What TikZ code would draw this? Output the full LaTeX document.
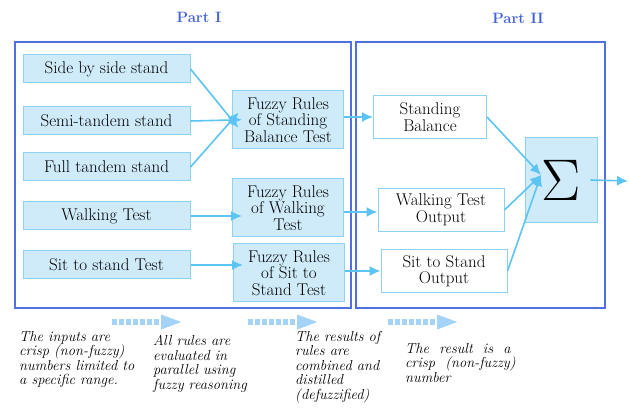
\documentclass[tikz,border=0pt]{standalone}
\usetikzlibrary{positioning,arrows.meta}
\definecolor{frameblue}{HTML}{4F6FE3}
\definecolor{partblue}{HTML}{4262D8}
\definecolor{boxfill}{HTML}{CFEBFA}
\definecolor{boxline}{HTML}{8ED2F2}
\definecolor{flowblue}{HTML}{5CC4F2}
\definecolor{hintblue}{HTML}{A3D3F7}

\begin{document}
\begin{tikzpicture}
      [x=1pt, y=-1pt, font=\fontsize{17}{16.5}\selectfont,
      % STYLES
      % The part style is used for the two big frames
      part/.style={rectangle, draw=frameblue, line width=2pt, minimum height=266pt},
      partLabel/.style={text=partblue, font=\fontsize{15}{15}\selectfont\bfseries},
      % The input style is used for the crisp measurements
      input/.style={rectangle, draw=boxline, fill=boxfill, line width=1pt, minimum width=167pt, minimum height=28pt, inner sep=2pt},
      % The rules style is used for the fuzzy rule blocks
      rules/.style={rectangle, draw=boxline, fill=boxfill, line width=1pt, align=center, minimum width=111pt, minimum height=58pt, inner sep=1pt},
      % The output style is used for the rule outputs
      output/.style={rectangle, draw=boxline, fill=white, line width=1pt, align=center, minimum height=43pt, inner sep=1pt},
      flow/.style={flowblue, line width=1.6pt, -{Latex[length=11pt,width=10pt]}},
      hint/.style={hintblue, line width=6pt, dash pattern=on 5pt off 2pt, -{Triangle[length=22pt,width=13pt]}},
      comment/.style={anchor=north west, inner sep=0pt, align=left, font=\fontsize{14.5}{14.5}\selectfont\itshape}]

      \useasboundingbox (0,0) rectangle (629,419);

      % Draw frames
      \node [part, minimum width=336pt] (partOne) at (183,175) {};
      \node [part, minimum width=249pt] (partTwo) at (480.5,175) {};
      \node [partLabel] (partOneLabel) at (199,17) {Part I};
      \node [partLabel] (partTwoLabel) at (518,18) {Part II};

      % Draw inputs
      \node [input] (sideBySide) at (106.5,69) {Side by side stand};
      \node [input] (semiTandem) at (106.5,121) {Semi-tandem stand};
      \node [input] (fullTandem) at (106.5,167) {Full tandem stand};
      \node [input] (walking) at (106.5,216) {Walking Test};
      \node [input] (sitToStand) at (106.5,265) {Sit to stand Test};

      % Draw rules
      \node [rules] (rulesBalance) at (288,120) {Fuzzy Rules\\of Standing\\Balance Test};
      \node [rules] (rulesWalking) at (288,208) {Fuzzy Rules\\of Walking\\Test};
      \node [rules] (rulesSit) at (289,273) {Fuzzy Rules\\of Sit to\\Stand Test};

      % Draw outputs
      \node [output, minimum width=113pt] (balanceOut) at (430,117) {Standing\\Balance};
      \node [output, minimum width=126pt] (walkingOut) at (441,210) {Walking Test\\Output};
      \node [output, minimum width=126pt] (sitOut) at (444,271) {Sit to Stand\\Output};
      \node [rectangle, draw=boxline, fill=boxfill, line width=1pt, minimum width=72pt, minimum height=85pt] (sigma) at (561,180) {\scalebox{3.4}{$\Sigma$}};
      \coordinate (sigmaIn) at (541,175);
      \coordinate (sumOut) at (628,181);

      %%%%%%%%%%%%%%%
      % Comments
      \node [comment] (comment-inputs) at (19,331) {The inputs are\\crisp (non-fuzzy)\\numbers limited to\\a specific range.};
      \node [comment] (comment-rules) at (153,335) {All rules are\\evaluated in\\parallel using\\fuzzy reasoning};
      \node [comment] (comment-combine) at (295,331) {The results of\\rules are\\combined and\\distilled\\(defuzzified)};
      \node [comment] (comment-result) at (405,343) {The \ result \ is \ a\\crisp \ (non-fuzzy)\\number};

      \coordinate (hintOneA) at (112,322);
      \coordinate (hintOneB) at (183,322);
      \coordinate (hintTwoA) at (248,322);
      \coordinate (hintTwoB) at (319,322);
      \coordinate (hintThreeA) at (388,322);
      \coordinate (hintThreeB) at (459,322);

      %%%%%%%%%%%%%%%%

      % Draw the links between blocks
      \path[flow, shorten >=-10pt]
        (sideBySide.east) edge (rulesBalance.west)
        (semiTandem.east) edge (rulesBalance.west)
        (fullTandem.east) edge (rulesBalance.west)
        (walking.east) edge (walking.east -| rulesWalking.west)
        (sitToStand.east) edge (sitToStand.east -| rulesSit.west);
      \path[flow]
        (balanceOut.west -| rulesBalance.east) edge (balanceOut.west)
        (rulesWalking.east |- 0,212) edge (walkingOut.west |- 0,212)
        (sitOut.west -| rulesSit.east) edge (sitOut.west)
        (balanceOut.east) edge (sigmaIn)
        (walkingOut.east) edge (sigmaIn)
        (sitOut.east) edge (sigmaIn)
        ([xshift=-7pt]sigma.east) edge (sumOut);
      \path[hint]
        (hintOneA) edge (hintOneB)
        (hintTwoA) edge (hintTwoB)
        (hintThreeA) edge (hintThreeB);

    \end{tikzpicture}
\end{document}
